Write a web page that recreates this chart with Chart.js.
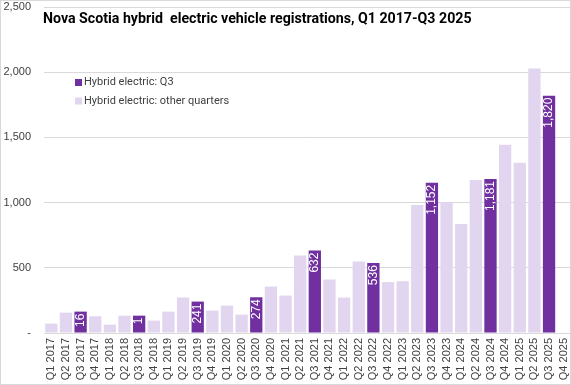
<!DOCTYPE html>
<html><head><meta charset="utf-8">
<script src="https://cdn.jsdelivr.net/npm/chart.js@4/dist/chart.umd.min.js"></script>
<style>html,body{margin:0;padding:0;background:#fff}#wrap{width:571px;height:385px}</style>
</head><body><div id="wrap"><canvas id="c" width="571" height="385"></canvas></div>
<script>
const categories = ["Q1 2017","Q2 2017","Q3 2017","Q4 2017","Q1 2018","Q2 2018","Q3 2018","Q4 2018","Q1 2019","Q2 2019","Q3 2019","Q4 2019","Q1 2020","Q2 2020","Q3 2020","Q4 2020","Q1 2021","Q2 2021","Q3 2021","Q4 2021","Q1 2022","Q2 2022","Q3 2022","Q4 2022","Q1 2023","Q2 2023","Q3 2023","Q4 2023","Q1 2024","Q2 2024","Q3 2024","Q4 2024","Q1 2025","Q2 2025","Q3 2025","Q4 2025"];
const q3Values = [null,null,164,null,null,null,133,null,null,null,241,null,null,null,274,null,null,null,632,null,null,null,536,null,null,null,1152,null,null,null,1181,null,null,null,1820,null];
const otherValues = [72,156,null,128,64,133,null,95,164,272,null,172,210,141,null,356,287,595,null,410,272,549,null,390,397,982,null,1005,836,1174,null,1444,1305,2028,null,null];
const yTickLabels = {0:"-",500:"500",1000:"1,000",1500:"1,500",2000:"2,000",2500:"2,500"};
const titleText = "Nova Scotia hybrid  electric vehicle registrations, Q1 2017-Q3 2025";
const seriesNames = ["Hybrid electric: Q3","Hybrid electric: other quarters"];
const colQ3 = "#7030A0", colOther = "#E1D5EF";

const extras = {
  id:'extras',
  afterDraw(chart){
    const ctx = chart.ctx;
    ctx.save();
    ctx.strokeStyle = "#D9D9D9"; ctx.lineWidth = 1;
    ctx.strokeRect(0.5,0.5,chart.width-1,chart.height-1);
    ctx.fillStyle = "#000";
    ctx.font = "bold 14.2px Roboto, 'Liberation Sans', sans-serif";
    ctx.textBaseline = "middle"; ctx.textAlign = "left";
    ctx.fillText(titleText, 43, 19);
    const items = [[colQ3, seriesNames[0]],[colOther, seriesNames[1]]];
    ctx.font = "11px Roboto, 'Liberation Sans', sans-serif";
    items.forEach((it,i)=>{
      const y = 82.5 + i*18.5;
      ctx.fillStyle = it[0]; ctx.fillRect(75, y-3.5, 7, 7);
      ctx.fillStyle = "#404040"; ctx.fillText(it[1], 84, y);
    });
    const meta = chart.getDatasetMeta(0);
    ctx.font = "12px 'Liberation Sans', Arial, sans-serif";
    ctx.fillStyle = "#fff";
    meta.data.forEach((bar,i)=>{
      const v = q3Values[i];
      if (v == null) return;
      let txt = v.toLocaleString('en-US');
      const h = bar.base - bar.y;
      const avail = h - 6;
      while (txt.length && ctx.measureText(txt).width > avail) txt = txt.slice(0,-1);
      if (!txt) return;
      ctx.save();
      ctx.translate(bar.x, bar.y + 2);
      ctx.rotate(-Math.PI/2);
      ctx.textAlign = "right"; ctx.textBaseline = "middle";
      ctx.fillText(txt, 0, 0);
      ctx.restore();
    });
    ctx.restore();
  }
};

new Chart(document.getElementById('c'), {
  type:'bar',
  data:{
    labels: categories,
    datasets:[
      {label: seriesNames[0], data: q3Values, backgroundColor: colQ3, barPercentage:0.84, categoryPercentage:1},
      {label: seriesNames[1], data: otherValues, backgroundColor: colOther, barPercentage:0.84, categoryPercentage:1}
    ]
  },
  options:{
    responsive:false, animation:false,
    layout:{padding:{left:0,right:0,top:7,bottom:0}},
    plugins:{legend:{display:false}, title:{display:false}, tooltip:{enabled:false}},
    scales:{
      x:{stacked:true, grid:{display:false, drawTicks:false}, border:{display:false},
         ticks:{minRotation:90, maxRotation:90, autoSkip:false, padding:5, color:"#404040",
                font:{family:"'Liberation Sans', Arial, sans-serif", size:11}},
         afterFit(s){ s.height = 52; s.paddingLeft = 0; s.paddingRight = 0; }},
      y:{stacked:true, min:0, max:2500, grid:{color:"#D9D9D9", drawTicks:false}, border:{display:false},
         ticks:{stepSize:500, padding:13, color:"#404040",
                font:{family:"'Liberation Sans', Arial, sans-serif", size:11},
                callback:(v)=> yTickLabels[v] ?? ""},
         afterFit(s){ s.width = 44; s.paddingTop = 0; s.paddingBottom = 0; }}
    }
  },
  plugins:[extras]
});
</script></body></html>
